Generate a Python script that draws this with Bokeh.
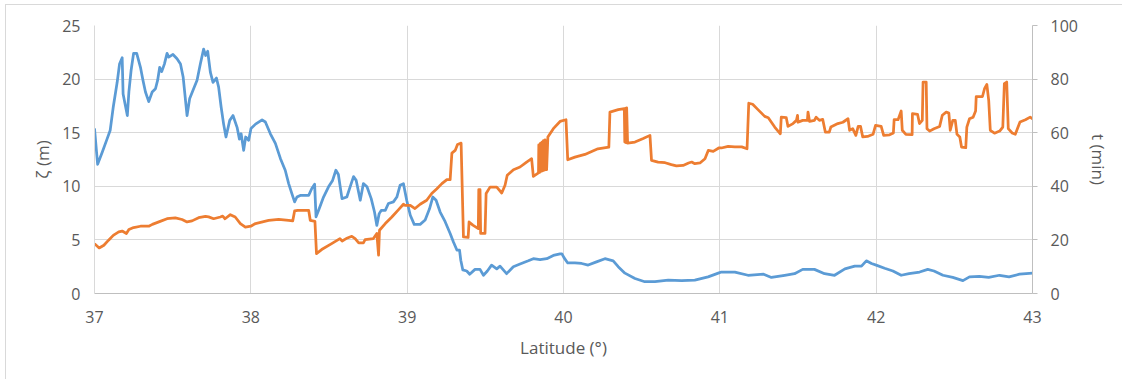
from bokeh.plotting import figure
from bokeh.models import LinearAxis, Range1d, FixedTicker
from bokeh.embed import file_html
from bokeh.resources import INLINE

# Surface elevation ζ (m) along the track, by latitude
lat_zeta = [
    37.000, 37.020, 37.050, 37.080, 37.100, 37.120, 37.145, 37.160, 37.177, 37.183,
    37.210, 37.220, 37.234, 37.250, 37.270, 37.294, 37.310, 37.326, 37.347, 37.369,
    37.390, 37.404, 37.417, 37.430, 37.447, 37.464, 37.475, 37.502, 37.528, 37.550,
    37.567, 37.592, 37.609, 37.634, 37.656, 37.677, 37.698, 37.711, 37.724, 37.741,
    37.758, 37.780, 37.794, 37.810, 37.826, 37.841, 37.865, 37.886, 37.912, 37.927,
    37.938, 37.954, 37.967, 37.986, 38.001, 38.030, 38.072, 38.093, 38.125, 38.157,
    38.189, 38.220, 38.242, 38.263, 38.280, 38.295, 38.316, 38.370, 38.390, 38.408,
    38.417, 38.433, 38.465, 38.497, 38.523, 38.544, 38.560, 38.583, 38.614, 38.642,
    38.657, 38.674, 38.700, 38.720, 38.743, 38.770, 38.791, 38.806, 38.821, 38.834,
    38.860, 38.880, 38.912, 38.934, 38.955, 38.976, 38.997, 39.020, 39.045, 39.083,
    39.115, 39.143, 39.164, 39.185, 39.211, 39.243, 39.275, 39.296, 39.318, 39.335,
    39.343, 39.356, 39.381, 39.400, 39.434, 39.466, 39.488, 39.513, 39.540, 39.573,
    39.594, 39.636, 39.679, 39.722, 39.775, 39.807, 39.850, 39.893, 39.935, 39.978,
    39.990, 40.003, 40.027, 40.073, 40.116, 40.158, 40.211, 40.265, 40.318, 40.350,
    40.393, 40.457, 40.520, 40.585, 40.670, 40.755, 40.840, 40.925, 40.990, 41.010,
    41.096, 41.180, 41.280, 41.330, 41.415, 41.478, 41.530, 41.605, 41.670, 41.734,
    41.800, 41.863, 41.906, 41.937, 41.970, 42.000, 42.054, 42.107, 42.160, 42.210,
    42.278, 42.330, 42.370, 42.427, 42.490, 42.555, 42.597, 42.660, 42.720, 42.789,
    42.850, 42.917, 43.000,
]
zeta = [
    15.4, 12.05, 13.2, 14.4, 15.2, 17.4, 19.7, 21.4, 22.0, 18.6,
    16.6, 18.8, 20.8, 22.4, 22.4, 21.1, 19.9, 18.8, 17.9, 18.8,
    19.1, 19.9, 21.1, 20.7, 21.4, 22.4, 22.05, 22.3, 21.9, 21.4,
    20.2, 16.6, 18.2, 19.1, 19.9, 21.4, 22.8, 22.2, 22.6, 20.65,
    19.7, 20.1, 19.25, 17.4, 15.8, 14.6, 16.15, 16.6, 15.5, 14.4,
    14.9, 13.35, 14.6, 14.3, 15.4, 15.8, 16.2, 16.0, 14.9, 14.0,
    12.6, 11.5, 10.25, 9.3, 8.55, 9.0, 9.15, 9.15, 9.8, 10.2,
    7.15, 7.75, 9.0, 9.95, 10.55, 11.5, 11.1, 8.85, 9.0, 10.25,
    10.9, 10.55, 8.7, 10.25, 9.95, 8.85, 7.6, 6.35, 7.45, 7.75,
    7.75, 8.4, 8.55, 9.0, 10.1, 10.25, 8.7, 7.3, 6.45, 6.45,
    6.85, 7.9, 9.0, 8.7, 7.6, 6.7, 5.6, 4.8, 4.05, 4.05,
    3.1, 2.2, 2.1, 1.8, 2.25, 2.25, 1.7, 2.1, 2.65, 2.3,
    2.55, 1.85, 2.5, 2.75, 3.05, 3.25, 3.15, 3.25, 3.55, 3.7,
    3.7, 3.35, 2.85, 2.85, 2.8, 2.65, 2.95, 3.25, 3.05, 2.5,
    1.9, 1.4, 1.1, 1.1, 1.25, 1.2, 1.25, 1.55, 1.9, 2.0,
    2.0, 1.7, 1.8, 1.5, 1.7, 1.85, 2.25, 2.25, 1.85, 1.7,
    2.3, 2.55, 2.55, 3.05, 2.8, 2.65, 2.35, 2.1, 1.7, 1.85,
    2.0, 2.25, 2.1, 1.7, 1.5, 1.2, 1.55, 1.6, 1.5, 1.7,
    1.55, 1.8, 1.9,
]

# Time t (min) along the same track
lat_t = [
    37.000, 37.030, 37.060, 37.090, 37.120, 37.155, 37.177, 37.204, 37.220, 37.250,
    37.294, 37.347, 37.370, 37.420, 37.464, 37.517, 37.560, 37.592, 37.624, 37.666,
    37.710, 37.730, 37.762, 37.805, 37.820, 37.835, 37.869, 37.900, 37.933, 37.965,
    38.000, 38.030, 38.114, 38.178, 38.242, 38.268, 38.280, 38.300, 38.370, 38.380,
    38.410, 38.420, 38.453, 38.517, 38.570, 38.584, 38.610, 38.646, 38.667, 38.690,
    38.720, 38.731, 38.784, 38.806, 38.817, 38.823, 38.860, 38.902, 38.945, 38.976,
    38.987, 39.020, 39.050, 39.083, 39.125, 39.157, 39.190, 39.222, 39.254, 39.275,
    39.286, 39.307, 39.322, 39.345, 39.360, 39.390, 39.396, 39.420, 39.455, 39.458,
    39.466, 39.470, 39.498, 39.505, 39.530, 39.573, 39.605, 39.626, 39.640, 39.680,
    39.722, 39.764, 39.796, 39.807, 39.840, 39.842, 39.847, 39.852, 39.857, 39.862,
    39.867, 39.872, 39.877, 39.882, 39.887, 39.892, 39.900, 39.935, 39.978, 40.016,
    40.027, 40.073, 40.137, 40.220, 40.290, 40.297, 40.350, 40.389, 40.392, 40.396,
    40.400, 40.404, 40.410, 40.457, 40.510, 40.553, 40.563, 40.605, 40.650, 40.690,
    40.722, 40.765, 40.800, 40.820, 40.840, 40.873, 40.905, 40.926, 40.958, 40.993,
    41.010, 41.053, 41.096, 41.140, 41.174, 41.185, 41.210, 41.244, 41.287, 41.310,
    41.351, 41.387, 41.393, 41.425, 41.436, 41.468, 41.490, 41.497, 41.500, 41.530,
    41.560, 41.564, 41.574, 41.605, 41.616, 41.637, 41.658, 41.675, 41.700, 41.710,
    41.755, 41.787, 41.820, 41.830, 41.850, 41.870, 41.885, 41.900, 41.914, 41.945,
    41.980, 41.996, 42.032, 42.048, 42.086, 42.110, 42.115, 42.140, 42.160, 42.167,
    42.190, 42.230, 42.232, 42.265, 42.277, 42.295, 42.300, 42.320, 42.325, 42.342,
    42.370, 42.406, 42.423, 42.448, 42.465, 42.474, 42.490, 42.506, 42.517, 42.535,
    42.546, 42.573, 42.580, 42.597, 42.620, 42.636, 42.640, 42.680, 42.693, 42.708,
    42.720, 42.730, 42.757, 42.790, 42.810, 42.820, 42.835, 42.845, 42.870, 42.890,
    42.920, 42.955, 42.985, 43.000,
]
t_min = [
    18.6, 17.0, 18.0, 19.9, 21.7, 23.0, 23.3, 22.4, 23.85, 24.6,
    25.1, 25.1, 25.8, 26.9, 27.9, 28.2, 27.6, 26.7, 27.1, 28.3,
    28.8, 28.6, 27.9, 28.55, 28.9, 27.9, 29.4, 28.55, 26.1, 24.8,
    25.1, 26.1, 27.3, 27.7, 27.3, 27.1, 30.8, 31.0, 31.05, 27.3,
    26.9, 14.9, 16.4, 18.6, 20.5, 19.6, 20.5, 21.35, 20.5, 18.9,
    18.9, 20.1, 20.5, 22.4, 14.3, 23.6, 26.1, 28.55, 31.3, 33.3,
    32.9, 32.9, 31.7, 33.3, 34.8, 37.3, 39.1, 41.0, 42.5, 42.5,
    52.4, 53.4, 55.6, 56.1, 21.1, 20.9, 26.7, 25.5, 24.2, 38.8,
    38.8, 22.4, 22.4, 37.3, 39.7, 39.7, 37.5, 40.4, 44.1, 46.2,
    47.2, 49.05, 50.3, 43.7, 45.0, 55.5, 45.2, 56.0, 45.6, 56.5,
    45.8, 57.0, 46.0, 57.3, 46.2, 46.2, 58.4, 61.5, 64.2, 64.85,
    49.9, 50.9, 51.9, 54.0, 54.6, 67.7, 68.6, 69.0, 56.5, 69.1,
    56.3, 69.3, 56.1, 56.5, 57.8, 59.0, 49.7, 49.05, 48.8, 48.1,
    47.6, 47.8, 48.7, 49.05, 48.45, 48.7, 50.3, 53.4, 53.0, 54.3,
    54.3, 54.9, 54.7, 54.7, 54.0, 71.0, 70.6, 68.6, 66.1, 65.6,
    62.1, 59.6, 65.8, 65.6, 62.35, 63.4, 64.6, 66.5, 63.9, 64.6,
    64.6, 67.7, 64.2, 64.6, 65.8, 64.6, 65.0, 60.2, 60.2, 62.1,
    63.4, 63.9, 65.2, 60.9, 61.5, 59.0, 62.35, 62.35, 58.4, 58.6,
    59.4, 62.7, 62.35, 59.0, 59.2, 59.9, 64.85, 64.85, 68.1, 60.9,
    59.4, 59.3, 67.1, 66.8, 63.4, 64.6, 78.9, 78.9, 61.5, 60.6,
    61.5, 62.35, 66.5, 67.7, 67.3, 60.9, 64.6, 64.6, 59.4, 58.4,
    54.65, 54.4, 62.1, 65.2, 65.8, 68.1, 73.5, 73.5, 76.4, 78.0,
    72.0, 60.9, 59.8, 60.6, 62.1, 78.3, 78.9, 61.5, 59.9, 59.4,
    64.0, 64.85, 65.8, 65.2,
]

x_ticks = [37, 38, 39, 40, 41, 42, 43]
zeta_ticks = [0, 5, 10, 15, 20, 25]
t_ticks = [0, 20, 40, 60, 80, 100]

FONT = "Open Sans"
TEXT = "#595959"
GRID = "#d9d9d9"
AXIS = "#bfbfbf"

p = figure(
    width=1117, height=375,
    output_backend="svg", toolbar_location=None,
    x_range=Range1d(37, 43), y_range=Range1d(0, 25),
    min_border_left=88, min_border_right=91,
    min_border_top=20, min_border_bottom=87,
    x_axis_location=None, y_axis_location=None,
)
# thin frame on the chart area's top and left edges
p.styles = {
    "margin-left": "5px", "margin-top": "4px",
    "border-left": "1px solid #d9d9d9", "border-top": "1px solid #d9d9d9",
}
p.outline_line_color = None
p.background_fill_color = "white"
p.border_fill_color = "white"
p.extra_y_ranges = {"t": Range1d(0, 100)}

def style_axis(ax, label, tick_out=0):
    ax.axis_label = label
    ax.axis_label_text_font = FONT
    ax.axis_label_text_font_size = "17px"
    ax.axis_label_text_font_style = "normal"
    ax.axis_label_text_color = TEXT
    ax.major_label_text_font = FONT
    ax.major_label_text_font_size = "16px"
    ax.major_label_text_color = TEXT
    ax.minor_tick_line_color = None
    ax.major_tick_in = 0
    ax.major_tick_out = tick_out
    ax.major_tick_line_color = AXIS

xaxis = LinearAxis(ticker=FixedTicker(ticks=x_ticks))
style_axis(xaxis, "Latitude (°)")
xaxis.axis_line_color = AXIS
xaxis.major_label_standoff = 17
xaxis.axis_label_standoff = 10
p.add_layout(xaxis, "below")

yaxis = LinearAxis(ticker=FixedTicker(ticks=zeta_ticks))
style_axis(yaxis, "ζ (m)")
yaxis.axis_line_color = GRID
yaxis.major_label_standoff = 14
yaxis.axis_label_standoff = 5
p.add_layout(yaxis, "left")

taxis = LinearAxis(y_range_name="t", ticker=FixedTicker(ticks=t_ticks))
style_axis(taxis, "t (min)", tick_out=5)
taxis.axis_line_color = AXIS
taxis.major_label_standoff = 13
taxis.axis_label_standoff = 6
p.add_layout(taxis, "right")

p.xgrid.ticker = FixedTicker(ticks=x_ticks)
p.ygrid.ticker = FixedTicker(ticks=zeta_ticks)
p.xgrid.grid_line_color = GRID
p.ygrid.grid_line_color = GRID
p.xgrid.grid_line_width = 1
p.ygrid.grid_line_width = 1

p.line(lat_zeta, zeta, line_color="#5b9bd5", line_width=2.75, line_join="round")
p.line(lat_t, t_min, y_range_name="t", line_color="#ed7d31", line_width=2.75,
       line_join="round")

open("out.html", "w").write(file_html(p, INLINE))
